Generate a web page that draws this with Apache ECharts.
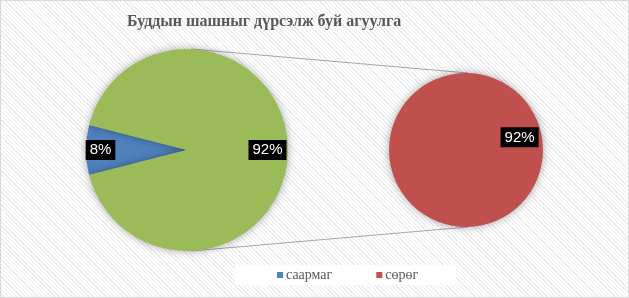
<!DOCTYPE html>
<html>
<head>
<meta charset="utf-8">
<script src="https://cdn.jsdelivr.net/npm/echarts@6/dist/echarts.min.js"></script>
<style>
  html, body { margin: 0; padding: 0; }
  #wrap {
    width: 629px; height: 298px; box-sizing: border-box;
    border: 1px solid #d9d9d9;
    background: repeating-linear-gradient(45deg, #ffffff 0px, #ffffff 2px, #ececec 2px, #ececec 3px);
  }
  #chart { width: 627px; height: 296px; }
</style>
</head>
<body>
<div id="wrap"><div id="chart"></div></div>
<script>
const title = 'Буддын шашныг дүрсэлж буй агуулга';
const categories = ['саармаг', 'сөрөг'];
const values = [8, 92];
const otherName = 'Бусад';
const colors = ['#4f81bd', '#c0504d'];
const otherColor = '#9bbb59';

// layout
const c1 = [186, 149], r1 = 101;
const c2 = [465, 149], r2 = 77;

const chart = echarts.init(document.getElementById('chart'));
const labelStyle = {
  show: true, position: 'inside', color: '#ffffff',
  fontFamily: 'Liberation Sans, Arial, sans-serif', fontSize: 15,
  backgroundColor: '#000000', padding: [3, 4, 2, 4],
  formatter: function (p) { return p.value + '%'; }
};
const shadow = { shadowBlur: 8, shadowColor: 'rgba(0,0,0,0.35)' };

chart.setOption({
  animation: false,
  backgroundColor: 'transparent',
  title: {
    text: title, left: 121, top: 8,
    textStyle: { fontFamily: 'Liberation Serif, Times New Roman, serif', fontWeight: 'bold', fontSize: 16, color: '#595959' }
  },
  legend: {
    data: categories, bottom: 12, left: 234,
    icon: 'rect', itemWidth: 6, itemHeight: 6, itemGap: 44,
    backgroundColor: '#ffffff', padding: [3, 38, 3, 42],
    textStyle: { fontFamily: 'Liberation Serif, Times New Roman, serif', fontSize: 14, color: '#595959', padding: [0, 0, 0, -2] }
  },
  series: [
    {
      type: 'pie', center: c1, radius: r1, startAngle: 180 + values[0] * 1.8,
      silent: true,
      itemStyle: shadow,
      label: labelStyle,
      labelLine: { show: false },
      labelLayout: function (p) {
        return p.dataIndex === 0 ? { dx: -33, dy: 0 } : { dx: 27, dy: 0 };
      },
      data: [
        { name: categories[0], value: values[0], itemStyle: { color: colors[0] } },
        { name: otherName, value: values[1], itemStyle: { color: otherColor } }
      ]
    },
    {
      type: 'pie', center: c2, radius: r2, startAngle: 192,
      silent: true,
      itemStyle: shadow,
      label: labelStyle,
      labelLine: { show: false },
      labelLayout: function () { return { dx: 13, dy: -4 }; },
      data: [
        { name: categories[1], value: values[1], itemStyle: { color: colors[1] } }
      ]
    }
  ],
  graphic: [
    { type: 'line', silent: true, z: 0,
      shape: { x1: c1[0] + 4, y1: c1[1] - r1, x2: c2[0] + 2, y2: c2[1] - r2 },
      style: { stroke: '#a6a6a6', lineWidth: 1 } },
    { type: 'line', silent: true, z: 0,
      shape: { x1: c1[0] + 4, y1: c1[1] + r1, x2: c2[0] + 2, y2: c2[1] + r2 },
      style: { stroke: '#a6a6a6', lineWidth: 1 } }
  ]
});
</script>
</body>
</html>
